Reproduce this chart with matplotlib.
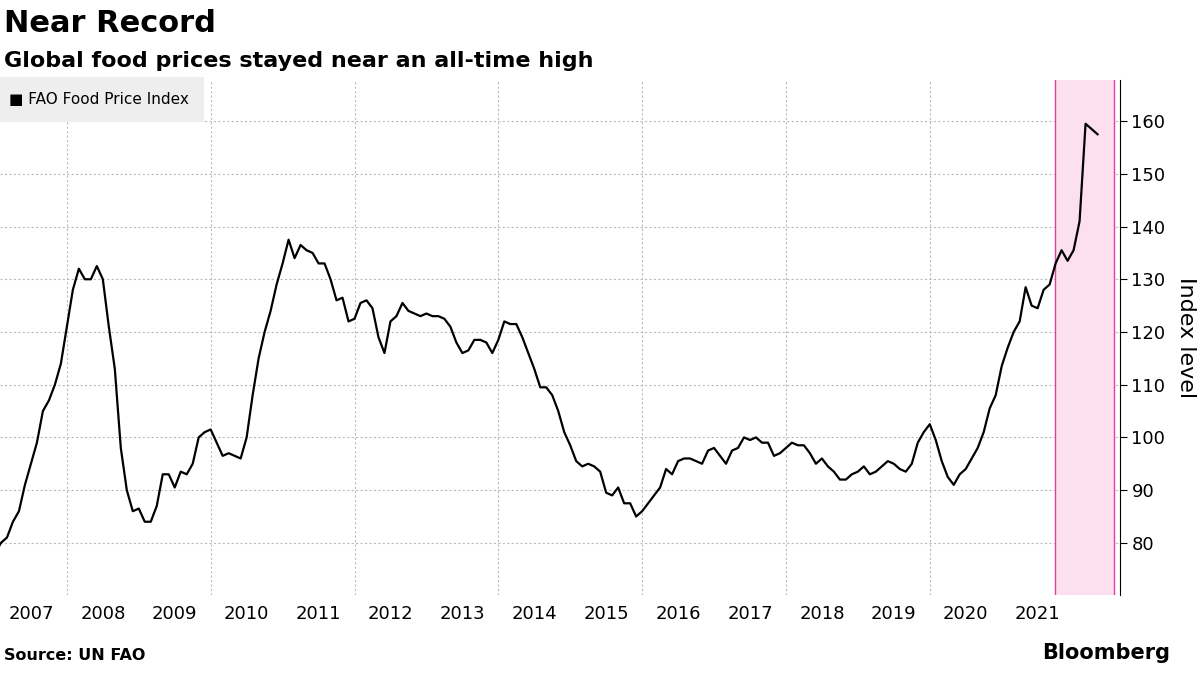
import numpy as np
import matplotlib.pyplot as plt

# FAO Food Price Index, monthly, Jan 2007 - May 2022
values = [
    78, 80, 81, 84, 86, 91, 95, 99, 105, 107, 110, 114,
    121, 128, 132, 130, 130, 132.5, 130, 121, 113, 98, 90, 86,
    86.5, 84, 84, 87, 93, 93, 90.5, 93.5, 93, 95, 100, 101,
    101.5, 99, 96.5, 97, 96.5, 96, 100, 108, 115, 120, 124, 129,
    133, 137.5, 134, 136.5, 135.5, 135, 133, 133, 130, 126, 126.5, 122,
    122.5, 125.5, 126, 124.5, 119, 116, 122, 123, 125.5, 124, 123.5, 123,
    123.5, 123, 123, 122.5, 121, 118, 116, 116.5, 118.5, 118.5, 118, 116,
    118.5, 122, 121.5, 121.5, 119, 116, 113, 109.5, 109.5, 108, 105, 101,
    98.5, 95.5, 94.5, 95, 94.5, 93.5, 89.5, 89, 90.5, 87.5, 87.5, 85,
    86, 87.5, 89, 90.5, 94, 93, 95.5, 96, 96, 95.5, 95, 97.5,
    98, 96.5, 95, 97.5, 98, 100, 99.5, 100, 99, 99, 96.5, 97,
    98, 99, 98.5, 98.5, 97, 95, 96, 94.5, 93.5, 92, 92, 93,
    93.5, 94.5, 93, 93.5, 94.5, 95.5, 95, 94, 93.5, 95, 99, 101,
    102.5, 99.5, 95.5, 92.5, 91, 93, 94, 96, 98, 101, 105.5, 108,
    113.5, 117, 120, 122, 128.5, 125, 124.5, 128, 129, 133, 135.5, 133.5,
    135.5, 141, 159.5, 158.5, 157.5,
]
t = 2007.0 + np.arange(len(values)) / 12.0

fig = plt.figure(figsize=(12, 6.75), dpi=100)
ax = fig.add_axes([0.0, 0.1185, 0.933, 0.763])

ax.axvspan(2021.74, 2022.56, facecolor="#fde0f0", edgecolor="none")
ax.axvline(2021.74, color="#e040a0", lw=1)
ax.axvline(2022.56, color="#e040a0", lw=1)
ax.plot(t, values, color="black", lw=1.6)

ax.set_xlim(2007.07, 2022.64)
ax.set_ylim(70.1, 167.8)
ax.set_yticks(range(80, 161, 10))
ax.yaxis.tick_right()
ax.yaxis.set_label_position("right")
ax.set_ylabel("Index level", rotation=-90, labelpad=22, fontsize=16)
ax.tick_params(axis="y", labelsize=13, length=5, direction="out")
for s in ["left", "top", "bottom"]:
    ax.spines[s].set_visible(False)
ax.spines["right"].set_color("black")

ax.set_xticks(range(2008, 2023, 2))
ax.set_xticklabels([])
ax.tick_params(axis="x", length=0)
ax.grid(True, color="#bbbbbb", ls=(0, (2, 2)), lw=0.8)
ax.set_axisbelow(True)
for yr in range(2007, 2022):
    ax.text(yr + 0.5, -0.02, str(yr), transform=ax.get_xaxis_transform(),
            ha="center", va="top", fontsize=13)

# legend
ax.text(0.008, 0.962, "\u25a0 FAO Food Price Index", transform=ax.transAxes,
        fontsize=11, va="center", ha="left",
        bbox=dict(facecolor="#eeeeee", edgecolor="none", pad=11))

fig.text(0.003, 0.965, "Near Record", fontsize=22, fontweight="bold", va="center")
fig.text(0.003, 0.91, "Global food prices stayed near an all-time high",
         fontsize=16, fontweight="bold", va="center")
fig.text(0.003, 0.018, "Source: UN FAO", fontsize=11.5, fontweight="bold", va="bottom")
fig.text(0.975, 0.018, "Bloomberg", fontsize=15, fontweight="bold", va="bottom", ha="right")

fig.savefig("out.png", dpi=100)
